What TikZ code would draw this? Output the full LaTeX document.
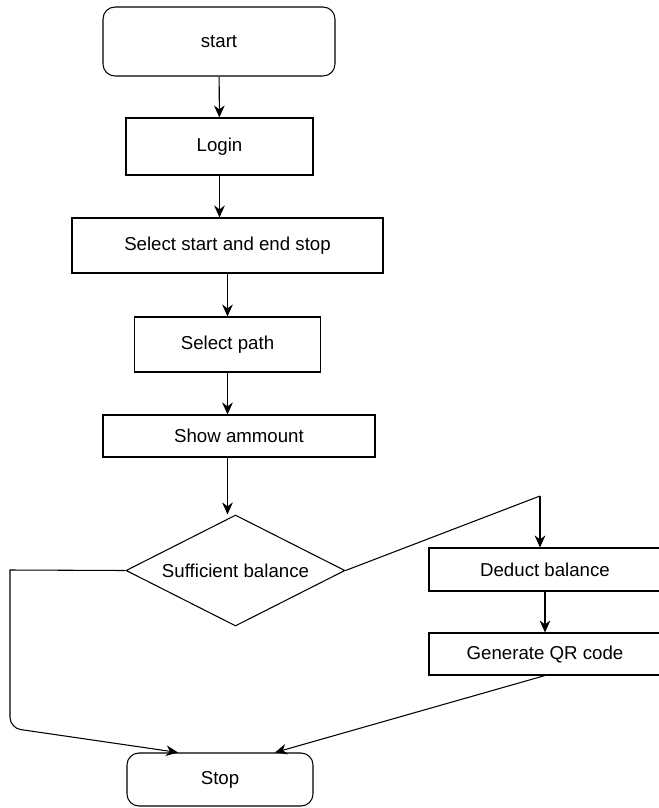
\documentclass[tikz,border=0pt]{standalone}
\usepackage{fontspec}
\setmainfont{Liberation Sans}
\usetikzlibrary{arrows.meta,shapes.geometric}

\tikzset{
  box/.style = {draw, line width=0.8pt, inner sep=0pt, align=center},
  endbox/.style = {box, rounded corners=9pt},
  decision/.style = {draw, diamond, line width=0.8pt, inner sep=0pt, aspect=2},
  link/.style = {line width=0.8pt, -{Stealth[length=9pt,width=8pt]}}
}

\begin{document}
\begin{tikzpicture}[x=0.75pt, y=-0.75pt, every node/.style = {font=\fontsize{14}{17}\selectfont}]

\useasboundingbox (0,0) rectangle (659,808);

\node[endbox, minimum width=174pt, minimum height=51.75pt] (start) at (219,41.5) {start};
\node[box, minimum width=140.25pt, minimum height=42.75pt] (login) at (219.5,146.5) {Login};
\node[box, minimum width=233.25pt, minimum height=41.25pt] (select) at (227.5,245.5) {Select start and end stop};
\node[box, minimum width=139.5pt, minimum height=41.25pt] (path) at (227.5,344.5) {Select path};
\node[box, minimum width=204pt, minimum height=31.5pt] (show) at (239,436) {Show ammount};
\node[decision, minimum width=164.25pt, minimum height=83.25pt] (check) at (235.5,570.5) {Sufficient balance};
\node[box, minimum width=174pt, minimum height=32.25pt] (deduct) at (545,569.5) {Deduct balance};
\node[box, minimum width=174pt, minimum height=31.5pt] (qr) at (545,654) {Generate QR code};
\node[endbox, minimum width=139.5pt, minimum height=39.75pt] (stop) at (220,779.5) {Stop};

\coordinate (bend) at (540,496);
\coordinate (left1) at (10,570);
\coordinate (left2) at (10,728);

\draw[link] (start) -- (login);
\draw[link] (login.south) -- (login |- select.north);
\draw[link] (select) -- (path);
\draw[link] (path.south) -- (path |- show.north);
\draw[link] (show.south -| path) -- (path |- check.north);
\draw[line width=0.8pt] (check.east) -- (bend);
\draw[link] (bend) -- (bend |- deduct.north);
\draw[link] (deduct) -- (qr);
\draw[link] (qr.south) -- ([xshift=41.25pt]stop.north);
\draw[link] (check.west) -- (left1) [rounded corners=8pt] -- (left2) -- ([xshift=-31.5pt]stop.north);
\end{tikzpicture}
\end{document}
